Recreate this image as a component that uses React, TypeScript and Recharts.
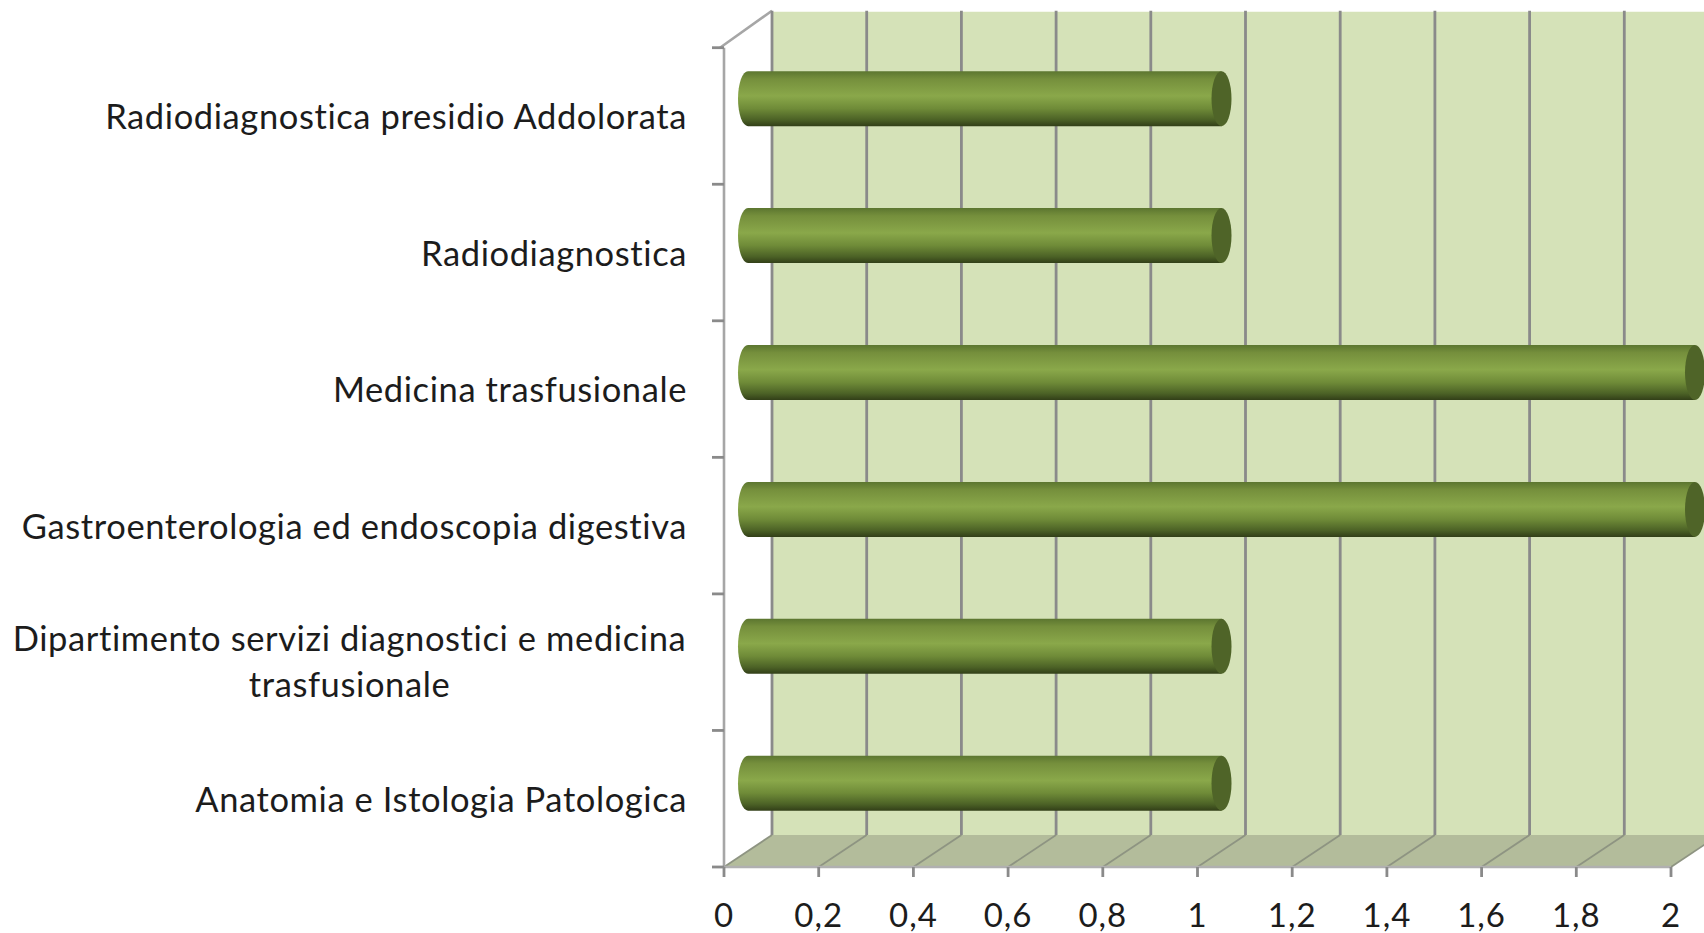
import { BarChart, Bar, XAxis, YAxis, ReferenceArea } from 'recharts'

const categories = [
  'Radiodiagnostica presidio Addolorata',
  'Radiodiagnostica',
  'Medicina trasfusionale',
  'Gastroenterologia ed endoscopia digestiva',
  'Dipartimento servizi diagnostici e medicina trasfusionale',
  'Anatomia e Istologia Patologica',
]
const values = [1, 1, 2, 2, 1, 1]
const xTicks = [0, 0.2, 0.4, 0.6, 0.8, 1, 1.2, 1.4, 1.6, 1.8, 2]
const xMax = 2

// the one label that wraps in the original
const wrapped: Record<string, string[]> = {
  'Dipartimento servizi diagnostici e medicina trasfusionale': [
    'Dipartimento servizi diagnostici e medicina',
    'trasfusionale',
  ],
}

const data = categories.map((name, i) => ({ name, value: values[i] }))

const FONT = 'Lato, "Open Sans", sans-serif'
const TEXT = '#1c1c1c'
const GRID = '#8a8a8a'
const DEPTH_X = 48
const DEPTH_TOP = 36
const DEPTH_BOTTOM = 32
const BAND = 136.55

function Walls({ x, y, width, height }: any) {
  const bottom = y + height
  const right = x + width
  const wallTop = y - DEPTH_TOP
  const wallBottom = bottom - DEPTH_BOTTOM
  return (
    <g>
      <polygon
        points={`${x + DEPTH_X},${wallTop} ${right + DEPTH_X},${wallTop} ${right + DEPTH_X},${wallBottom} ${x + DEPTH_X},${wallBottom}`}
        fill="#d5e2b8"
      />
      <polygon
        points={`${x},${bottom} ${x + DEPTH_X},${wallBottom} ${right + DEPTH_X},${wallBottom} ${right},${bottom}`}
        fill="#b3bc9b"
      />
      <line x1={x - 4} y1={y} x2={x + DEPTH_X} y2={wallTop - 1} stroke="#a6a6a6" strokeWidth={2.6} />
      {xTicks.map((t) => {
        const tx = x + (t / xMax) * width
        return (
          <g key={t}>
            <line
              x1={tx + DEPTH_X}
              y1={wallTop - 1}
              x2={tx + DEPTH_X}
              y2={wallBottom}
              stroke={GRID}
              strokeWidth={2.8}
            />
            <line x1={tx} y1={bottom} x2={tx + DEPTH_X} y2={wallBottom} stroke="#8e9482" strokeWidth={1.8} />
          </g>
        )
      })}
    </g>
  )
}

function Cylinder({ x, y, width, height, index }: any) {
  const cx = x + 24
  const cy = y - 17.5 + index * 0.35
  const rx = 10
  const ry = height / 2
  return (
    <g>
      <path
        d={`M${cx},${cy} L${cx + width},${cy} L${cx + width},${cy + height} L${cx},${cy + height} A${rx},${ry} 0 0 1 ${cx},${cy} Z`}
        fill="url(#cyl)"
      />
      <ellipse cx={cx + width} cy={cy + ry} rx={rx} ry={ry} fill="#4f6428" />
    </g>
  )
}

function CategoryTick({ x, y, payload, index }: any) {
  const lines = wrapped[payload.value]
  const axisX = x + 37
  return (
    <g>
      <line x1={axisX - 12} y1={y - BAND / 2} x2={axisX} y2={y - BAND / 2} stroke={GRID} strokeWidth={2.8} />
      {index === categories.length - 1 && (
        <line x1={axisX - 12} y1={y + BAND / 2} x2={axisX} y2={y + BAND / 2} stroke={GRID} strokeWidth={2.8} />
      )}
      {lines ? (
        <text fontFamily={FONT} fontSize={34.5} letterSpacing={0.6} fill={TEXT} textAnchor="middle">
          <tspan x={x - 337.5} y={y - 11}>{lines[0]}</tspan>
          <tspan x={x - 337.5} y={y + 35}>{lines[1]}</tspan>
        </text>
      ) : (
        <text x={x} y={y + 13} fontFamily={FONT} fontSize={34.5} letterSpacing={0.6} fill={TEXT} textAnchor="end">
          {payload.value}
        </text>
      )}
    </g>
  )
}

export default function App() {
  return (
    <div style={{ position: 'absolute', left: 0, top: 0, width: 1704, height: 933, background: '#fff' }}>
      <BarChart
        width={1704}
        height={933}
        data={data}
        layout="vertical"
        margin={{ top: 47.7, right: 33, bottom: 16, left: 24 }}
        barCategoryGap={0}
      >
        <defs>
          <linearGradient id="cyl" x1="0" y1="0" x2="0" y2="1">
            <stop offset="0" stopColor="#5c7630" />
            <stop offset="0.14" stopColor="#758f3c" />
            <stop offset="0.45" stopColor="#8aa84a" />
            <stop offset="0.68" stopColor="#6f8b38" />
            <stop offset="0.88" stopColor="#4c6226" />
            <stop offset="1" stopColor="#323f18" />
          </linearGradient>
        </defs>
        <ReferenceArea x1={0} x2={xMax} ifOverflow="visible" shape={Walls} />
        <XAxis
          type="number"
          domain={[0, xMax]}
          ticks={xTicks}
          interval={0}
          height={50}
          stroke="#b0b0b0"
          axisLine={{ stroke: '#b0b0b0', strokeWidth: 2.6 }}
          tickLine={{ stroke: GRID, strokeWidth: 2.8 }}
          tickSize={10}
          tickMargin={27}
          tick={{ fontFamily: FONT, fontSize: 33, letterSpacing: 1, fill: TEXT }}
          tickFormatter={(v: number) => String(v).replace('.', ',')}
        />
        <YAxis
          type="category"
          dataKey="name"
          width={700}
          interval={0}
          axisLine={{ stroke: '#a6a6a6', strokeWidth: 2.6 }}
          tickLine={false}
          tickMargin={0}
          tickSize={37}
          tick={CategoryTick}
        />
        <Bar dataKey="value" barSize={55} isAnimationActive={false} shape={Cylinder} />
      </BarChart>
    </div>
  )
}
